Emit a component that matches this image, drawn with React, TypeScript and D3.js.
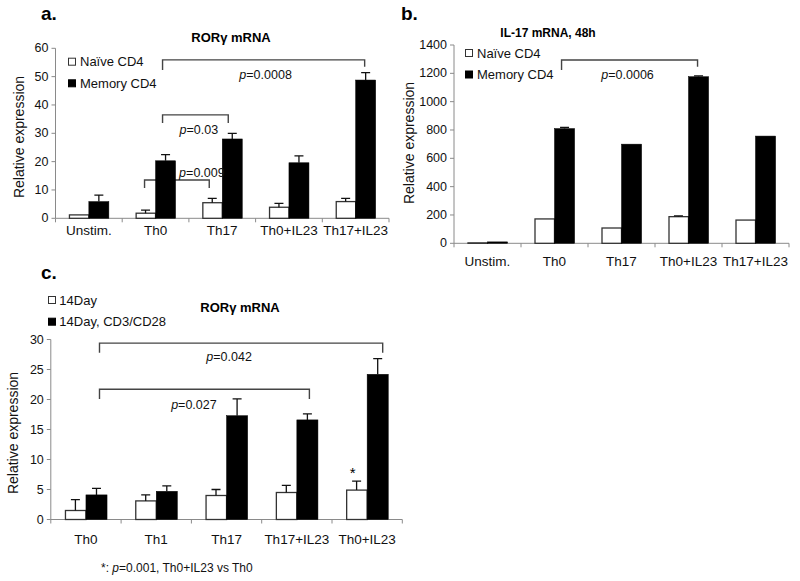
import React from "react";
import * as d3 from "d3";

// ---------- DATA ----------
const groupsA = ["Unstim.", "Th0", "Th17", "Th0+IL23", "Th17+IL23"];
const naiveA = [1.2, 1.8, 5.5, 3.9, 5.9];
const naiveErrA = [0, 1.1, 1.5, 1.4, 1.1];
const memoryA = [5.9, 20.3, 28.0, 19.6, 48.8];
const memoryErrA = [2.3, 2.2, 2.0, 2.4, 2.6];
const ticksA = [0, 10, 20, 30, 40, 50, 60];
const seriesA = ["Naïve CD4", "Memory CD4"];

const groupsB = ["Unstim.", "Th0", "Th17", "Th0+IL23", "Th17+IL23"];
const naiveB = [3, 172, 108, 188, 164];
const naiveErrB = [0, 0, 0, 6, 0];
const memoryB = [10, 810, 700, 1176, 757];
const memoryErrB = [0, 8, 0, 6, 0];
const ticksB = [0, 200, 400, 600, 800, 1000, 1200, 1400];
const seriesB = ["Naïve CD4", "Memory CD4"];

const groupsC = ["Th0", "Th1", "Th17", "Th17+IL23", "Th0+IL23"];
const day14C = [1.5, 3.1, 4.0, 4.5, 4.9];
const day14ErrC = [1.8, 1.0, 1.0, 1.2, 1.5];
const cd3C = [4.1, 4.7, 17.3, 16.6, 24.2];
const cd3ErrC = [1.1, 0.9, 2.8, 1.0, 2.6];
const ticksC = [0, 5, 10, 15, 20, 25, 30];
const seriesC = ["14Day", "14Day, CD3/CD28"];

// significance brackets: groups joined, series, line level and end levels (data units)
const bracketsA = [
  { from: 1, to: 4, series: 1, top: 55.9, endL: 52.3, endR: 53.5, p: "0.0008" },
  { from: 1, to: 2, series: 1, top: 36.5, endL: 33.6, endR: 33.6, p: "0.03" },
  { from: 1, to: 2, series: 0, top: 13.5, endL: 10.7, endR: 10.7, p: "0.009" },
];
const bracketsB = [
  { from: 1, to: 3, series: 1, top: 1294, endL: 1223, endR: 1247, p: "0.0006" },
];
const bracketsC = [
  { from: 0, to: 4, series: 1, top: 29.4, endL: 27.8, endR: 27.8, p: "0.042" },
  { from: 0, to: 3, series: 1, top: 21.7, endL: 20.1, endR: 20.1, p: "0.027" },
];

// ---------- LAYOUT (pixels) ----------
const FONT = "'Liberation Sans', Arial, Helvetica, sans-serif";

type PanelCfg = {
  letter: string;
  letterX: number;
  letterY: number;
  title: string;
  titleX: number;
  titleY: number;
  titleSize: number;
  groups: string[];
  s0: number[];
  e0: number[];
  s1: number[];
  e1: number[];
  ticks: number[];
  series: string[];
  brackets: any[];
  bracketDx: [number, number][];
  labelOff: [number, number][];
  xRange: [number, number];
  yRange: [number, number];
  ymax: number;
  xLabelY: number;
  yTitleX: number;
  yTitleY: number;
  legendX: number;
  legendTextDx: number;
  legendY: [number, number];
  star?: number;
};

function Panel({ c }: { c: PanelCfg }) {
  const x0 = d3
    .scaleBand<string>()
    .domain(c.groups)
    .range(c.xRange)
    .paddingInner(0.4)
    .paddingOuter(0.2);
  const x1 = d3.scaleBand<number>().domain([0, 1]).range([0, x0.bandwidth()]);
  const y = d3.scaleLinear().domain([0, c.ymax]).range(c.yRange);
  const step = x0.step();
  const bw = x1.bandwidth();
  const axisColor = "#8a8a8a";
  const cap = 9;

  const barX = (gi: number, s: number) => (x0(c.groups[gi]) as number) + (x1(s) as number);
  const vals = [c.s0, c.s1];
  const errs = [c.e0, c.e1];

  return (
    <g fontFamily={FONT}>
      <text x={c.letterX} y={c.letterY} fontSize={19} fontWeight="bold">
        {c.letter}
      </text>
      <text x={c.titleX} y={c.titleY} fontSize={c.titleSize} fontWeight="bold" textAnchor="middle">
        {c.title}
      </text>
      {/* brackets (behind bars) */}
      {c.brackets.map((b, i) => {
        const xa = barX(b.from, b.series) + bw / 2 + c.bracketDx[i][0];
        const xb = barX(b.to, b.series) + bw / 2 + c.bracketDx[i][1];
        return (
          <path
            key={"br" + i}
            d={`M${xa},${y(b.endL)}V${y(b.top)}H${xb}V${y(b.endR)}`}
            fill="none"
            stroke="#444"
            strokeWidth={1.4}
          />
        );
      })}
      {/* y axis */}
      <line x1={c.xRange[0]} x2={c.xRange[0]} y1={y(0)} y2={y(c.ymax)} stroke={axisColor} strokeWidth={1} />
      {c.ticks.map((t) => (
        <g key={"yt" + t}>
          <line x1={c.xRange[0] - 4} x2={c.xRange[0]} y1={y(t)} y2={y(t)} stroke={axisColor} />
          <text
            x={c.xRange[0] - 7}
            y={y(t)}
            fontSize={12.5}
            textAnchor="end"
            dominantBaseline="central"
            fill="#111"
          >
            {t}
          </text>
        </g>
      ))}
      {/* x axis */}
      <line x1={c.xRange[0]} x2={c.xRange[1]} y1={y(0)} y2={y(0)} stroke={axisColor} strokeWidth={1} />
      {d3.range(c.groups.length + 1).map((i) => (
        <line
          key={"xt" + i}
          x1={c.xRange[0] + i * step}
          x2={c.xRange[0] + i * step}
          y1={y(0)}
          y2={y(0) + 4}
          stroke={axisColor}
        />
      ))}
      {c.groups.map((g) => (
        <text
          key={"xl" + g}
          x={(x0(g) as number) + x0.bandwidth() / 2}
          y={c.xLabelY}
          fontSize={13.5}
          textAnchor="middle"
          fill="#111"
        >
          {g}
        </text>
      ))}
      {/* bars */}
      {[0, 1].map((s) =>
        c.groups.map((g, gi) => {
          const v = vals[s][gi];
          const bx = barX(gi, s);
          return (
            <rect
              key={"b" + s + g}
              x={bx + (s === 0 ? 0.6 : 0)}
              y={y(v)}
              width={bw - (s === 0 ? 0.6 : 0)}
              height={y(0) - y(v)}
              fill={s === 0 ? "#fff" : "#000"}
              stroke={s === 0 ? "#333" : "#000"}
              strokeWidth={s === 0 ? 1.3 : 0.5}
            />
          );
        })
      )}
      {/* error bars */}
      {[0, 1].map((s) =>
        c.groups.map((g, gi) => {
          const v = vals[s][gi];
          const e = errs[s][gi];
          if (!e) return null;
          const cx = barX(gi, s) + bw / 2;
          return (
            <path
              key={"e" + s + g}
              d={`M${cx},${y(v)}V${y(v + e)}M${cx - cap / 2},${y(v + e)}H${cx + cap / 2}`}
              stroke="#111"
              strokeWidth={1.3}
              fill="none"
            />
          );
        })
      )}
      {/* p labels */}
      {c.brackets.map((b, i) => {
        const xa = barX(b.from, b.series) + bw / 2;
        const xb = barX(b.to, b.series) + bw / 2;
        return (
          <text
            key={"pl" + i}
            x={(xa + xb) / 2 + c.labelOff[i][0]}
            y={y(b.top) + c.labelOff[i][1]}
            fontSize={12.5}
            textAnchor="middle"
            dominantBaseline="central"
            fill="#111"
          >
            <tspan fontStyle="italic">p</tspan>={b.p}
          </text>
        );
      })}
      {c.star !== undefined && (
        <text
          x={barX(c.star, 0) + bw / 2 - 4}
          y={y(c.s0[c.star] + c.e0[c.star]) - 9}
          fontSize={15}
          textAnchor="middle"
          dominantBaseline="central"
        >
          *
        </text>
      )}
      {/* y title */}
      <text
        transform={`translate(${c.yTitleX},${c.yTitleY}) rotate(-90)`}
        fontSize={14}
        textAnchor="middle"
        dominantBaseline="central"
        fill="#111"
      >
        Relative expression
      </text>
      {/* legend */}
      {c.series.map((s, i) => (
        <g key={"lg" + i}>
          <rect
            x={c.legendX}
            y={c.legendY[i] - 3.5}
            width={7}
            height={7}
            fill={i === 0 ? "#fff" : "#000"}
            stroke={i === 0 ? "#333" : "#000"}
            strokeWidth={1}
          />
          <text
            x={c.legendX + c.legendTextDx}
            y={c.legendY[i]}
            fontSize={13}
            dominantBaseline="central"
            fill="#111"
          >
            {s}
          </text>
        </g>
      ))}
    </g>
  );
}

const panelA: PanelCfg = {
  letter: "a.",
  letterX: 41,
  letterY: 20,
  title: "RORγ mRNA",
  titleX: 231,
  titleY: 41.5,
  titleSize: 13,
  groups: groupsA,
  s0: naiveA,
  e0: naiveErrA,
  s1: memoryA,
  e1: memoryErrA,
  ticks: ticksA,
  series: seriesA,
  brackets: bracketsA,
  bracketDx: [[-3, -1], [-3, -4], [-1, -3]],
  labelOff: [[0, 15], [0, 15], [23, -7]],
  xRange: [55.5, 389],
  yRange: [218.3, 48.3],
  ymax: 60,
  xLabelY: 235,
  yTitleX: 19,
  yTitleY: 137,
  legendX: 68.5,
  legendTextDx: 11.5,
  legendY: [61.7, 83.3],
};

const panelB: PanelCfg = {
  letter: "b.",
  letterX: 401,
  letterY: 20,
  title: "IL-17 mRNA, 48h",
  titleX: 548,
  titleY: 37,
  titleSize: 12,
  groups: groupsB,
  s0: naiveB,
  e0: naiveErrB,
  s1: memoryB,
  e1: memoryErrB,
  ticks: ticksB,
  series: seriesB,
  brackets: bracketsB,
  bracketDx: [[-3, -1]],
  labelOff: [[-4, 15]],
  xRange: [454, 789],
  yRange: [243.3, 45],
  ymax: 1400,
  xLabelY: 266,
  yTitleX: 409,
  yTitleY: 143,
  legendX: 465.5,
  legendTextDx: 11.5,
  legendY: [53, 74.5],
};

const panelC: PanelCfg = {
  letter: "c.",
  letterX: 41,
  letterY: 279,
  title: "RORγ mRNA",
  titleX: 240,
  titleY: 311.5,
  titleSize: 13,
  groups: groupsC,
  s0: day14C,
  e0: day14ErrC,
  s1: cd3C,
  e1: cd3ErrC,
  ticks: ticksC,
  series: seriesC,
  brackets: bracketsC,
  bracketDx: [[3, 5], [3, 2]],
  labelOff: [[-8, 13.5], [-8, 16]],
  xRange: [50.8, 402.3],
  yRange: [519.5, 339.5],
  ymax: 30,
  xLabelY: 544,
  yTitleX: 12.5,
  yTitleY: 433,
  legendX: 48.5,
  legendTextDx: 10.8,
  legendY: [300, 321.7],
  star: 4,
};

export default function App() {
  return (
    <svg
      width={800}
      height={581}
      viewBox="0 0 800 581"
      style={{ position: "absolute", left: 0, top: 0, background: "#fff" }}
    >
      <rect x={0} y={0} width={800} height={581} fill="#fff" />
      <Panel c={panelA} />
      <Panel c={panelB} />
      <Panel c={panelC} />
      <text x={101} y={571.5} fontSize={12} fontFamily={FONT} fill="#111">
        *: <tspan fontStyle="italic">p</tspan>=0.001, Th0+IL23 vs Th0
      </text>
    </svg>
  );
}
